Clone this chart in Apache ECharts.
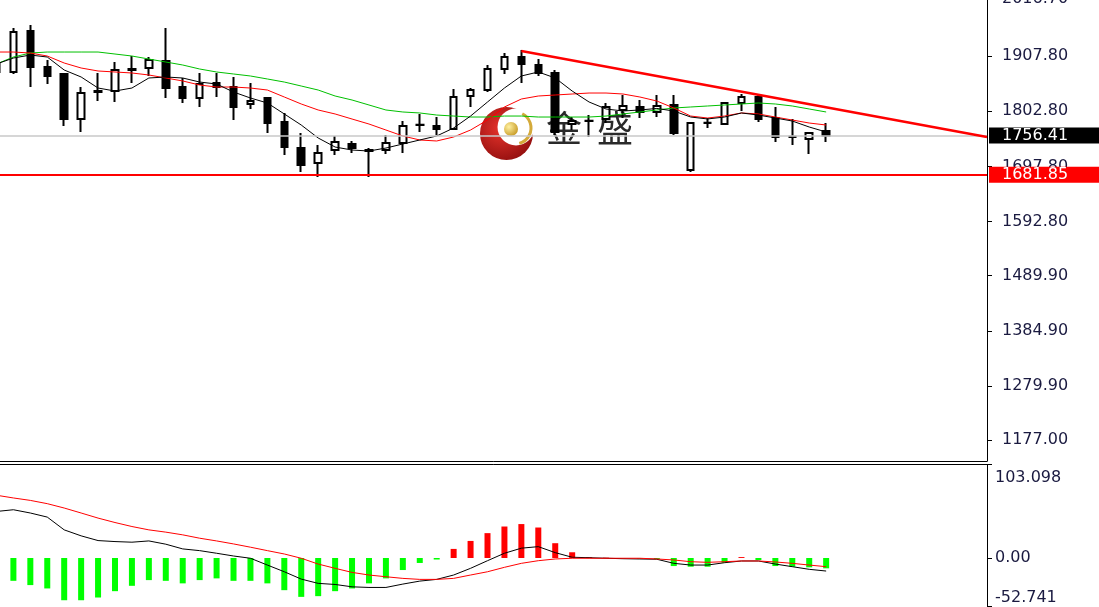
<!DOCTYPE html>
<html><head><meta charset="utf-8">
<script src="https://cdn.jsdelivr.net/npm/echarts@6/dist/echarts.min.js"></script>
<style>html,body{margin:0;padding:0;background:#fff;overflow:hidden}#c{width:1099px;height:607px}</style>
</head><body><div id="c"></div><script>
// ---- data ----
const categories = [];
for (let i = 1; i <= 59; i++) categories.push('D' + i);

const opens  = [1894.5,1877.4,1955.4,1886.9,1873.6,1787.9,1839.3,1841.2,1881.2,1885.0,
                1898.3,1848.8,1827.9,1856.4,1848.8,1816.5,1827.9,1782.2,1732.7,1704.2,
                1728.9,1740.4,1727.0,1728.9,1742.3,1776.5,1774.6,1768.9,1831.7,1843.1,
                1883.1,1905.9,1890.7,1875.5,1778.4,1784.1,1787.9,1805.1,1810.8,1801.3,
                1814.6,1690.9,1780.3,1778.4,1818.4,1829.8,1789.8,1753.7,1749.9,1765.1];
const closes = [1877.4,1953.5,1886.9,1869.8,1787.9,1837.4,1841.2,1881.2,1883.1,1900.2,
                1846.9,1827.9,1854.5,1848.8,1810.8,1822.2,1780.3,1734.6,1700.4,1723.2,
                1744.2,1732.7,1728.9,1742.3,1774.6,1777.0,1768.9,1829.8,1843.1,1883.1,
                1905.9,1892.6,1875.5,1763.2,1784.1,1784.6,1810.8,1812.7,1801.3,1812.7,
                1761.3,1780.3,1780.8,1818.4,1829.8,1787.9,1753.7,1754.2,1761.3,1756.41];
const lows   = [1871.7,1873.6,1848.8,1854.5,1774.6,1763.2,1822.2,1820.3,1856.4,1869.8,
                1827.9,1818.4,1810.8,1829.8,1786.0,1807.0,1761.3,1719.4,1687.1,1677.6,
                1719.4,1723.2,1677.6,1721.3,1723.2,1763.2,1757.5,1767.0,1810.8,1839.3,
                1873.6,1856.4,1869.8,1757.5,1767.0,1753.7,1780.3,1789.8,1789.8,1791.7,
                1757.5,1687.1,1770.8,1776.5,1803.2,1782.2,1744.2,1738.5,1721.3,1744.2];
const highs  = [1904.0,1961.1,1966.8,1900.2,1875.5,1848.8,1875.5,1896.4,1907.8,1905.9,
                1961.1,1866.0,1875.5,1875.5,1867.9,1856.4,1829.8,1799.4,1761.3,1738.5,
                1755.6,1746.1,1732.7,1757.5,1784.1,1797.5,1791.7,1845.0,1846.9,1890.7,
                1913.5,1919.2,1902.1,1881.2,1791.7,1795.5,1818.4,1833.6,1824.1,1833.6,
                1833.6,1782.2,1789.8,1820.3,1835.5,1833.6,1810.8,1787.9,1763.2,1780.3];

const maFast = [1892.6,1904.0,1909.7,1905.9,1881.2,1867.9,1846.9,1841.2,1846.9,1866.0,
                1867.9,1866.0,1858.3,1854.5,1839.3,1827.9,1818.4,1797.5,1776.5,1751.8,
                1734.6,1728.9,1727.0,1732.7,1740.4,1748.0,1755.6,1770.8,1793.6,1820.3,
                1846.9,1869.8,1877.4,1866.0,1841.2,1820.3,1807.0,1803.2,1805.1,1808.0,
                1803.2,1791.7,1788.0,1791.7,1799.4,1795.5,1789.8,1784.1,1772.7,1763.2];
const maMid  = [1915.4,1915.4,1913.5,1907.8,1894.5,1885.0,1879.3,1877.4,1875.5,1871.7,
                1866.0,1860.3,1852.6,1848.8,1848.8,1846.9,1843.1,1829.8,1816.5,1805.1,
                1797.5,1787.9,1778.4,1767.0,1755.6,1748.0,1746.1,1753.7,1767.0,1786.0,
                1810.8,1826.0,1831.7,1833.6,1835.5,1837.4,1837.4,1835.5,1829.8,1822.2,
                1808.9,1793.6,1789.8,1793.6,1799.4,1797.5,1791.7,1786.0,1780.3,1776.5];
const maSlow = [1892.6,1905.9,1913.5,1915.4,1915.4,1915.4,1915.4,1911.6,1907.8,1902.1,
                1896.4,1890.7,1883.1,1877.4,1873.6,1869.8,1864.1,1858.3,1850.7,1843.1,
                1831.7,1824.1,1814.6,1805.1,1801.3,1799.4,1795.5,1793.6,1791.7,1791.7,
                1793.6,1793.6,1791.7,1791.7,1791.7,1791.7,1793.6,1797.5,1801.3,1805.1,
                1808.9,1810.8,1812.7,1814.6,1816.5,1818.4,1816.5,1812.7,1807.0,1801.3];

const macdHist = [-31.8,-25.2,-29.9,-33.6,-46.6,-46.6,-43.6,-36.6,-30.7,-24.4,
                  -25.2,-28.0,-24.4,-22.5,-25.2,-25.2,-28.0,-35.5,-42.9,-42.1,
                  -36.6,-33.6,-28.0,-22.5,-13.3,-5.5,-1.7,10.0,18.8,27.4,
                  34.7,37.4,33.6,16.3,6.3,0.8,0.3,-0.2,-0.5,-1.0,
                  -8.9,-9.6,-9.6,-5.2,1.0,-2.2,-8.9,-9.6,-10.3,-11.4];
const macdMain = [51.3,53.2,49.6,45.1,31.0,24.4,19.2,18.1,17.4,18.8,
                  15.2,10.0,8.1,5.2,2.2,-0.3,-7.8,-15.2,-23.3,-28.0,
                  -29.2,-31.8,-32.5,-32.5,-28.8,-25.5,-23.6,-18.8,-11.4,-3.0,
                  5.2,10.8,12.5,5.9,0.8,0.3,-0.3,-0.8,-1.1,-1.4,
                  -5.9,-7.8,-7.8,-5.2,-3.3,-3.3,-6.7,-9.6,-12.5,-14.4];
const macdSignal = [69.2,66.2,63.5,59.9,55.1,49.6,44.0,39.1,34.7,31.0,
                    28.5,25.5,21.8,18.8,15.5,11.9,8.1,4.4,-0.3,-6.7,
                    -11.4,-15.9,-18.8,-20.7,-22.5,-23.6,-23.6,-22.5,-18.8,-15.2,
                    -10.3,-5.9,-3.0,-1.1,-0.3,-0.3,-0.3,-0.3,-0.3,-1.1,
                    -2.2,-4.1,-4.8,-4.1,-3.3,-3.3,-4.4,-5.9,-7.8,-9.6];

const priceTicks = [1177.00,1279.90,1384.90,1489.90,1592.80,1697.80,1802.80,1907.80,2016.70];
const macdTicks = [-52.741, 0, 103.098];
const lastPrice = 1756.41;
const supportLevel = 1681.85;
const trendLine = [[31, 1917.3], [58.5, 1753.7]];

// ---- chart ----
const chart = echarts.init(document.getElementById('c'), null, {renderer: 'canvas'});
const FONT = 'Verdana, "DejaVu Sans", sans-serif';
const AX = '#1a1a40';
const candleData = opens.map((o, i) => [o, closes[i], lows[i], highs[i]]);

const option = {
  animation: false,
  backgroundColor: '#ffffff',
  grid: [
    {left: -12, top: -1.2, width: 999, height: 462.2, outerBoundsMode: 'none', containLabel: false},
    {left: -12, top: 464.5, width: 999, height: 141.3, outerBoundsMode: 'none', containLabel: false}
  ],
  xAxis: [
    {type: 'category', gridIndex: 0, data: categories, boundaryGap: true,
     axisLine: {show: true, onZero: false, lineStyle: {color: '#000', width: 1}},
     axisTick: {show: false}, axisLabel: {show: false}, splitLine: {show: false}},
    {type: 'value', gridIndex: 0, min: -0.5, max: 58.5, show: false,
     axisLine: {onZero: false}},
    {type: 'category', gridIndex: 1, data: categories, boundaryGap: true, position: 'top',
     axisLine: {show: true, onZero: false, lineStyle: {color: '#000', width: 1}},
     axisTick: {show: false}, axisLabel: {show: false}, splitLine: {show: false}}
  ],
  yAxis: [
    {type: 'value', gridIndex: 0, position: 'right', min: 1137.1, max: 2016.7,
     axisLine: {show: true, onZero: false, lineStyle: {color: '#000', width: 1}},
     axisTick: {show: true, length: 5, customValues: priceTicks, lineStyle: {color: '#000'}},
     axisLabel: {show: true, customValues: priceTicks, margin: 15, fontSize: 16,
       fontFamily: FONT, color: AX, formatter: v => v.toFixed(2)},
     splitLine: {show: false}},
    {type: 'value', gridIndex: 1, position: 'right', min: -52.741, max: 103.098,
     axisLine: {show: true, onZero: false, lineStyle: {color: '#000', width: 1}},
     axisTick: {show: true, length: 5, customValues: macdTicks, lineStyle: {color: '#000'}},
     axisLabel: {show: true, customValues: macdTicks, margin: 8, fontSize: 16,
       fontFamily: FONT, color: AX, padding: [5, 0, 0, 0],
       verticalAlignMaxLabel: 'top', verticalAlignMinLabel: 'bottom',
       formatter: v => v === 0 ? '0.00' : v.toFixed(3)},
     splitLine: {show: false}}
  ],
  graphic: [
    {type: 'circle', z: 1, silent: true, shape: {cx: 506.5, cy: 133.5, r: 26.5},
     style: {fill: new echarts.graphic.RadialGradient(0.4, 0.4, 0.7, [
       {offset: 0, color: '#e8342c'}, {offset: 1, color: '#8e0d0d'}])}},
    {type: 'circle', z: 1, silent: true, shape: {cx: 516, cy: 127, r: 18.5},
     style: {fill: '#ffffff'}},
    {type: 'arc', z: 1, silent: true, shape: {cx: 515, cy: 128, r: 16, startAngle: -1.1, endAngle: 1.3},
     style: {stroke: '#d4aa3a', lineWidth: 3, fill: null}},
    {type: 'circle', z: 1, silent: true, shape: {cx: 511, cy: 129, r: 7},
     style: {fill: new echarts.graphic.RadialGradient(0.35, 0.35, 0.8, [
       {offset: 0, color: '#fff0a0'}, {offset: 1, color: '#c09018'}])}},
    {type: 'text', z: 1, silent: true, left: 546, top: 110,
     style: {text: '金', font: '36px "Noto Sans CJK SC"', fill: '#2a2a2a'}},
    {type: 'text', z: 1, silent: true, left: 597, top: 110,
     style: {text: '盛', font: '36px "Noto Sans CJK SC"', fill: '#2a2a2a'}}
  ],
  series: [
    {type: 'candlestick', name: 'K', xAxisIndex: 0, yAxisIndex: 0, data: candleData,
     barWidth: 7, z: 3,
     itemStyle: {color: '#ffffff', color0: '#000000', borderColor: '#000000',
       borderColor0: '#000000', borderWidth: 2},
     markLine: {silent: true, symbol: ['none', 'none'], animation: false,
       data: [
         {yAxis: lastPrice, lineStyle: {color: '#c8c8c8', width: 1.5, type: 'solid'},
          label: {show: true, position: 'end', distance: 2, formatter: p => p.value.toFixed(2),
            color: '#fff', backgroundColor: '#000', fontSize: 16, fontFamily: FONT,
            padding: [0, 40, 0, 13]}},
         {yAxis: supportLevel, lineStyle: {color: '#ff0000', width: 2, type: 'solid'},
          label: {show: true, position: 'end', distance: 2, formatter: p => p.value.toFixed(2),
            color: '#fff', backgroundColor: '#ff0000', fontSize: 16, fontFamily: FONT,
            padding: [0, 40, 0, 13]}}
       ]}},
    {type: 'line', name: 'MA slow', xAxisIndex: 0, yAxisIndex: 0, data: maSlow, z: 4,
     showSymbol: false, lineStyle: {color: '#00c000', width: 1}},
    {type: 'line', name: 'MA mid', xAxisIndex: 0, yAxisIndex: 0, data: maMid, z: 4,
     showSymbol: false, lineStyle: {color: '#ff0000', width: 1}},
    {type: 'line', name: 'MA fast', xAxisIndex: 0, yAxisIndex: 0, data: maFast, z: 4,
     showSymbol: false, lineStyle: {color: '#000000', width: 1}},
    {type: 'line', name: 'Trend', xAxisIndex: 1, yAxisIndex: 0, data: trendLine, z: 5,
     showSymbol: false, lineStyle: {color: '#ff0000', width: 2.5}},
    {type: 'bar', name: 'MACD hist', xAxisIndex: 2, yAxisIndex: 1, data: macdHist, barWidth: 6, z: 2,
     itemStyle: {color: p => p.value >= 0 ? '#ff0000' : '#00ff00'}},
    {type: 'line', name: 'MACD', xAxisIndex: 2, yAxisIndex: 1, data: macdMain, z: 4,
     showSymbol: false, lineStyle: {color: '#000000', width: 1}},
    {type: 'line', name: 'Signal', xAxisIndex: 2, yAxisIndex: 1, data: macdSignal, z: 4,
     showSymbol: false, lineStyle: {color: '#ff0000', width: 1}}
  ]
};
chart.setOption(option);
</script></body></html>
